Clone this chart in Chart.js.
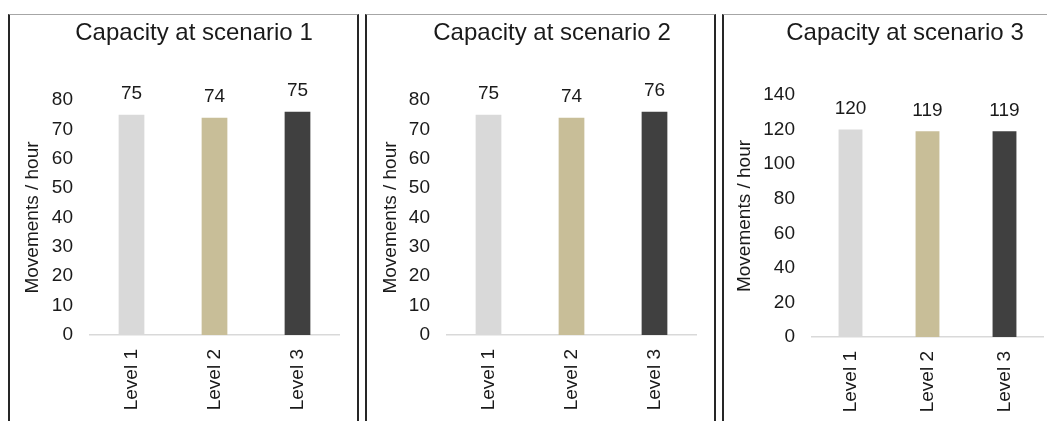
<!DOCTYPE html>
<html>
<head>
<meta charset="utf-8">
<script src="https://cdn.jsdelivr.net/npm/chart.js@4.4.1/dist/chart.umd.min.js"></script>
<style>
  html, body { margin: 0; padding: 0; background: #fff; }
  body { width: 1047px; height: 421px; position: relative; overflow: hidden; }
  .panel {
    position: absolute;
    top: 14px;
    height: 420px;
    box-sizing: border-box;
    border-top: 1.5px solid #a6a6a6;
    border-left: 2px solid #262626;
    border-right: 2px solid #262626;
  }
  canvas { position: absolute; }
</style>
</head>
<body>
<div class="panel" style="left:8px;width:351px"></div>
<div class="panel" style="left:365px;width:351px"></div>
<div class="panel" style="left:722px;width:340px"></div>
<canvas id="chart1"></canvas>
<canvas id="chart2"></canvas>
<canvas id="chart3"></canvas>
<script>
// Data
const categories = ['Level 1', 'Level 2', 'Level 3'];
const barColors = ['#d9d9d9', '#c8be98', '#404040'];
const titles = ['Capacity at scenario 1', 'Capacity at scenario 2', 'Capacity at scenario 3'];
const yAxisTitle = 'Movements / hour';

const scenario1 = [75, 74, 76];
const scenario1Labels = ['75', '74', '75'];
const scenario2 = [75, 74, 76];
const scenario2Labels = ['75', '74', '76'];
const scenario3 = [120, 119, 119];
const scenario3Labels = ['120', '119', '119'];

const yMax = [80, 80, 140];
const yStep = [10, 10, 20];

// Layout (page pixels)
const panels = [
    { id: 'chart1', canvas: [10, 15, 347, 406], area: [90, 100, 339, 335], titleX: 194, titleY: 33.5, yTitleX: 33 },
    { id: 'chart2', canvas: [367, 15, 347, 406], area: [447, 100, 696, 335], titleX: 552, titleY: 33.5, yTitleX: 391 },
    { id: 'chart3', canvas: [724, 15, 323, 406], area: [812, 95, 1043, 337], titleX: 905, titleY: 33.5, yTitleX: 745 }
];
const seriesList = [scenario1, scenario2, scenario3];
const labelList = [scenario1Labels, scenario2Labels, scenario3Labels];

const FONT = '"Liberation Sans", Arial, sans-serif';
const TEXT = '#1a1a1a';
const TITLE_SIZE = 24;
const LABEL_SIZE = 19;

Chart.defaults.font.family = FONT;
Chart.defaults.color = TEXT;

// Value labels above bars + panel title
const panelText = {
    id: 'panelText',
    afterDatasetsDraw(chart, args, opts) {
        const ctx = chart.ctx;
        const meta = chart.getDatasetMeta(0);
        ctx.save();
        ctx.fillStyle = TEXT;
        ctx.textAlign = 'center';
        ctx.textBaseline = 'middle';
        ctx.font = `${LABEL_SIZE}px ${FONT}`;
        meta.data.forEach((bar, i) => {
            ctx.fillText(opts.labels[i], bar.x, bar.y - 21);
        });
        ctx.font = `${TITLE_SIZE}px ${FONT}`;
        ctx.fillText(opts.title, opts.titleX, opts.titleY);
        ctx.restore();
    }
};

function makeChart(p, idx) {
    const el = document.getElementById(p.id);
    const [cx, cy, cw, ch] = p.canvas;
    el.style.left = cx + 'px';
    el.style.top = cy + 'px';
    el.style.width = cw + 'px';
    el.style.height = ch + 'px';
    el.width = cw;
    el.height = ch;

    const left = p.area[0] - cx;
    const top = p.area[1] - cy;
    const right = p.area[2] - cx;
    const bottom = p.area[3] - cy;
    const yTitleLine = LABEL_SIZE * 1.2;

    return new Chart(el, {
        type: 'bar',
        data: {
            labels: categories,
            datasets: [{
                data: seriesList[idx],
                backgroundColor: barColors,
                borderWidth: 0,
                barPercentage: 0.31,
                categoryPercentage: 1
            }]
        },
        options: {
            responsive: false,
            devicePixelRatio: 1,
            animation: false,
            layout: { padding: { left: 0, right: cw - right, top: top, bottom: 0 } },
            plugins: {
                legend: { display: false },
                tooltip: { enabled: false },
                title: { display: false },
                panelText: {
                    labels: labelList[idx],
                    title: titles[idx],
                    titleX: p.titleX - cx,
                    titleY: p.titleY - cy
                }
            },
            scales: {
                x: {
                    grid: { display: false, drawTicks: false },
                    border: { display: true, color: '#d9d9d9', width: 1.5 },
                    ticks: { minRotation: 90, maxRotation: 90, padding: 14, font: { size: LABEL_SIZE }, color: TEXT },
                    afterFit(scale) { scale.height = ch - bottom; }
                },
                y: {
                    min: 0,
                    max: yMax[idx],
                    grid: { display: false, drawTicks: false },
                    border: { display: false },
                    ticks: { stepSize: yStep[idx], padding: 17, font: { size: LABEL_SIZE }, color: TEXT },
                    title: {
                        display: true,
                        text: yAxisTitle,
                        color: TEXT,
                        font: { size: LABEL_SIZE },
                        padding: { top: (p.yTitleX - cx) - yTitleLine / 2, bottom: 0 }
                    },
                    afterFit(scale) { scale.width = left; }
                }
            }
        },
        plugins: [panelText]
    });
}

panels.forEach((p, i) => makeChart(p, i));
</script>
</body>
</html>
